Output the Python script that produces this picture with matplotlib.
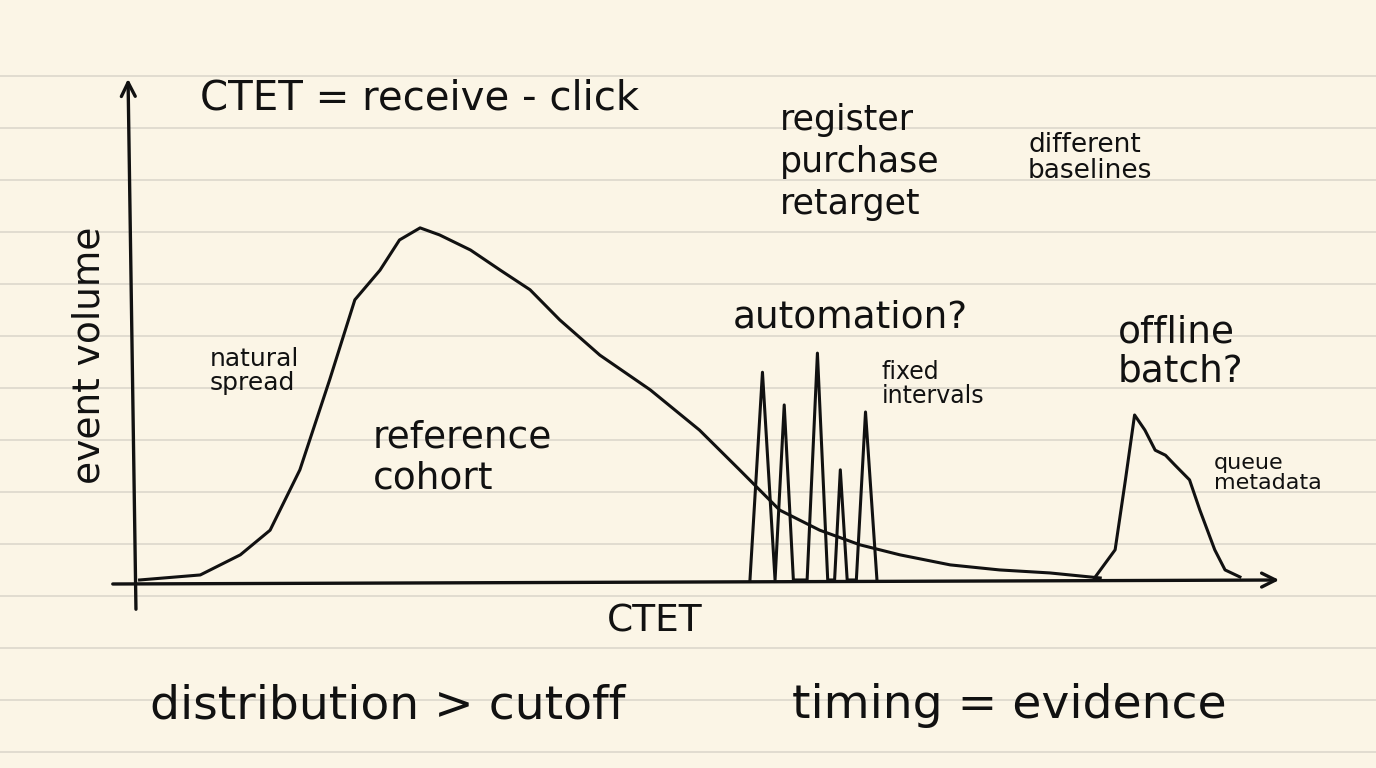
import matplotlib
matplotlib.use("Agg")
import matplotlib.pyplot as plt

W, H = 1376, 768
BG = "#fbf5e6"

# main reference cohort distribution
main_x = [0.4, 5.7, 9.2, 11.8, 14.4, 17.0, 19.2, 21.4, 23.1, 24.9, 26.6, 29.3, 31.9, 34.5,
          37.1, 40.6, 45.0, 49.3, 52.8, 56.3, 59.8, 63.3, 66.8, 71.2, 75.5, 79.9, 84.3]
main_y = [0.6, 1.6, 5.6, 10.5, 22.5, 40.4, 56.3, 62.2, 68.2, 70.6, 69.2, 66.2, 62.2, 58.3,
          52.3, 45.3, 38.4, 30.4, 22.5, 14.5, 10.5, 7.6, 5.6, 3.6, 2.6, 2.0, 1.0]
# automation spikes (fixed intervals)
spike_x = [53.7, 54.8, 55.9, 56.7, 57.5, 58.7, 59.6, 60.5, 61.1, 61.6, 62.2, 63.0, 63.8, 64.8]
spike_y = [0.3, 41.9, 0.6, 35.4, 0.6, 0.6, 45.7, 0.6, 0.6, 22.5, 0.6, 0.6, 34.0, 0.6]
# offline batch bump
batch_x = [83.8, 85.6, 86.5, 87.3, 88.2, 89.1, 90.0, 90.8, 92.1, 93.0, 94.3, 95.2, 96.5]
batch_y = [1.0, 6.6, 20.5, 33.4, 30.4, 26.4, 25.4, 23.5, 20.5, 14.5, 6.6, 2.6, 1.2]

fig = plt.figure(figsize=(W/100, H/100), dpi=100, facecolor=BG)

# notebook ruled lines
bgax = fig.add_axes([0, 0, 1, 1], facecolor=BG)
bgax.set_xlim(0, W); bgax.set_ylim(H, 0); bgax.axis("off")
for yy in range(76, 768, 52):
    bgax.axhline(yy, color="#dcd8cc", lw=1.2, zorder=0)

L, B, R, T = 135, 583, 1280, 80
ax = fig.add_axes([L/W, (H-B)/H, (R-L)/W, (B-T)/H])
ax.patch.set_alpha(0)
ax.set_xlim(0, 100); ax.set_ylim(0, 100); ax.axis("off")
kw = dict(color="#111111", lw=2.2, solid_joinstyle="round")
ax.plot(main_x, main_y, **kw)
ax.plot(spike_x, spike_y, **kw)
ax.plot(batch_x, batch_y, **kw)

# axes arrows
bgax.annotate("", xy=(1282, 580), xytext=(110, 584),
              arrowprops=dict(arrowstyle="->", lw=2.4, color="#111111", mutation_scale=25))
bgax.annotate("", xy=(128, 76), xytext=(136, 612),
              arrowprops=dict(arrowstyle="->", lw=2.4, color="#111111", mutation_scale=25))

def t(x, y, s, fs, ls=1.0):
    bgax.text(x, y, s, fontsize=fs, color="#111111", va="center", ha="left",
              linespacing=ls)

t(200, 98, "CTET = receive - click", 29)
t(780, 162, "register\npurchase\nretarget", 25, 1.3)
t(1028, 158, "different\nbaselines", 19, 1.05)
t(733, 318, "automation?", 27)
t(882, 384, "fixed\nintervals", 17)
t(1118, 352, "offline\nbatch?", 27, 1.1)
t(1214, 473, "queue\nmetadata", 16)
t(210, 371, "natural\nspread", 18)
t(373, 458, "reference\ncohort", 27, 1.15)
t(607, 622, "CTET", 27)
t(150, 706, "distribution > cutoff", 34)
t(792, 706, "timing = evidence", 34)
bgax.text(90, 355, "event volume", fontsize=27, rotation=90, ha="center", va="center",
          color="#111111")

fig.savefig("out.png", dpi=100, facecolor=BG)
